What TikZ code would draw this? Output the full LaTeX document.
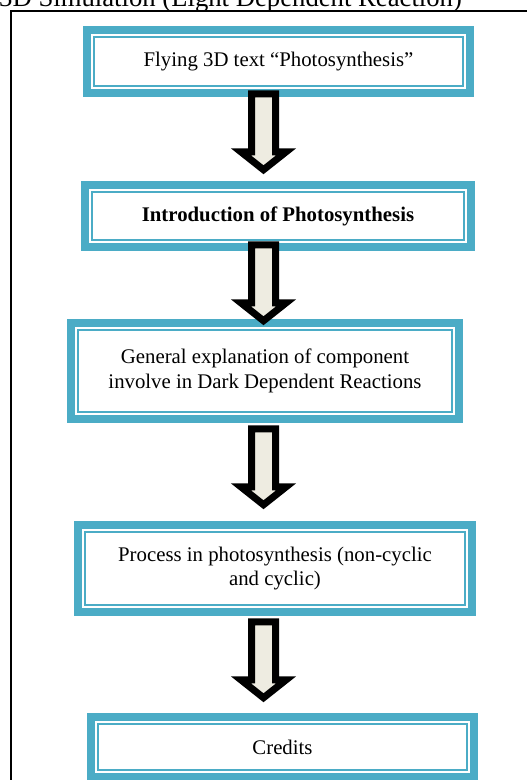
\documentclass[tikz,border=0pt]{standalone}
\usepackage{fontspec}
\setmainfont{Liberation Serif}
\usepackage{xcolor}
\usepackage{tikz}
\usetikzlibrary{calc,positioning}

\definecolor{frameteal}{HTML}{4BACC6}
\definecolor{arrowfill}{HTML}{EEECE1}

\begin{document}
\begin{tikzpicture}[x=1pt, y=-1pt]
    % Define styles
    \tikzstyle{stage} = [rectangle, draw=frameteal, line width=2.5pt, fill=white, align=center, inner sep=0pt,
        font=\fontsize{20.8}{24.5}\selectfont,
        preaction={draw=frameteal, line width=21.5pt}, preaction={draw=white, line width=6.5pt}]
    \tikzstyle{downarrow} = [draw=black, line width=7pt, fill=arrowfill, line join=miter]

    \useasboundingbox (0,0) rectangle (527,780);
    \clip (0,0) rectangle (527,780);

    % Heading and frame
    \node[anchor=base west, inner sep=0pt, font=\fontsize{26.7}{30}\selectfont] (heading) at (-1,6.5) {3D Simulation (Light Dependent Reaction)};
    \draw[line width=2pt] (11,790) -- (11,11) -- (540,11);

    % Stages
    \node[stage, minimum width=369pt, minimum height=49pt] (flying) at (278.5,61.5) {Flying 3D text “Photosynthesis”};
    \node[stage, minimum width=372pt, minimum height=48pt] (intro) at (278,216) {\textbf{Introduction of Photosynthesis}};
    \node[stage, minimum width=374pt, minimum height=82pt] (general) at (265,371) {General explanation of component\\involve in Dark Dependent Reactions};
    \node[stage, minimum width=380pt, minimum height=73pt] (process) at (275,568.5) {Process in photosynthesis (non-cyclic\\and cyclic)};
    \node[stage, minimum width=369pt, minimum height=46pt] (credits) at (282.5,747) {Credits};

    % Block arrows
    \coordinate (spine) at (263.5,0);
    \draw[downarrow] ($(flying.south -| spine)+(-12,6.5)$) -- ++(24,0) -- ++(0,58) -- ++(10.7,0) -- ++(-22.7,18) -- ++(-22.7,-18) -- ++(10.7,0) -- cycle;
    \draw[downarrow] ($(intro.south -| spine)+(-12,3.5)$) -- ++(24,0) -- ++(0,58) -- ++(10.7,0) -- ++(-22.7,18) -- ++(-22.7,-18) -- ++(10.7,0) -- cycle;
    \draw[downarrow] ($(general.south -| spine)+(-12,15.5)$) -- ++(24,0) -- ++(0,58) -- ++(10.7,0) -- ++(-22.7,18) -- ++(-22.7,-18) -- ++(10.7,0) -- cycle;
    \draw[downarrow] ($(process.south -| spine)+(-12,15.5)$) -- ++(24,0) -- ++(0,58) -- ++(10.7,0) -- ++(-22.7,18) -- ++(-22.7,-18) -- ++(10.7,0) -- cycle;

\end{tikzpicture}
\end{document}
